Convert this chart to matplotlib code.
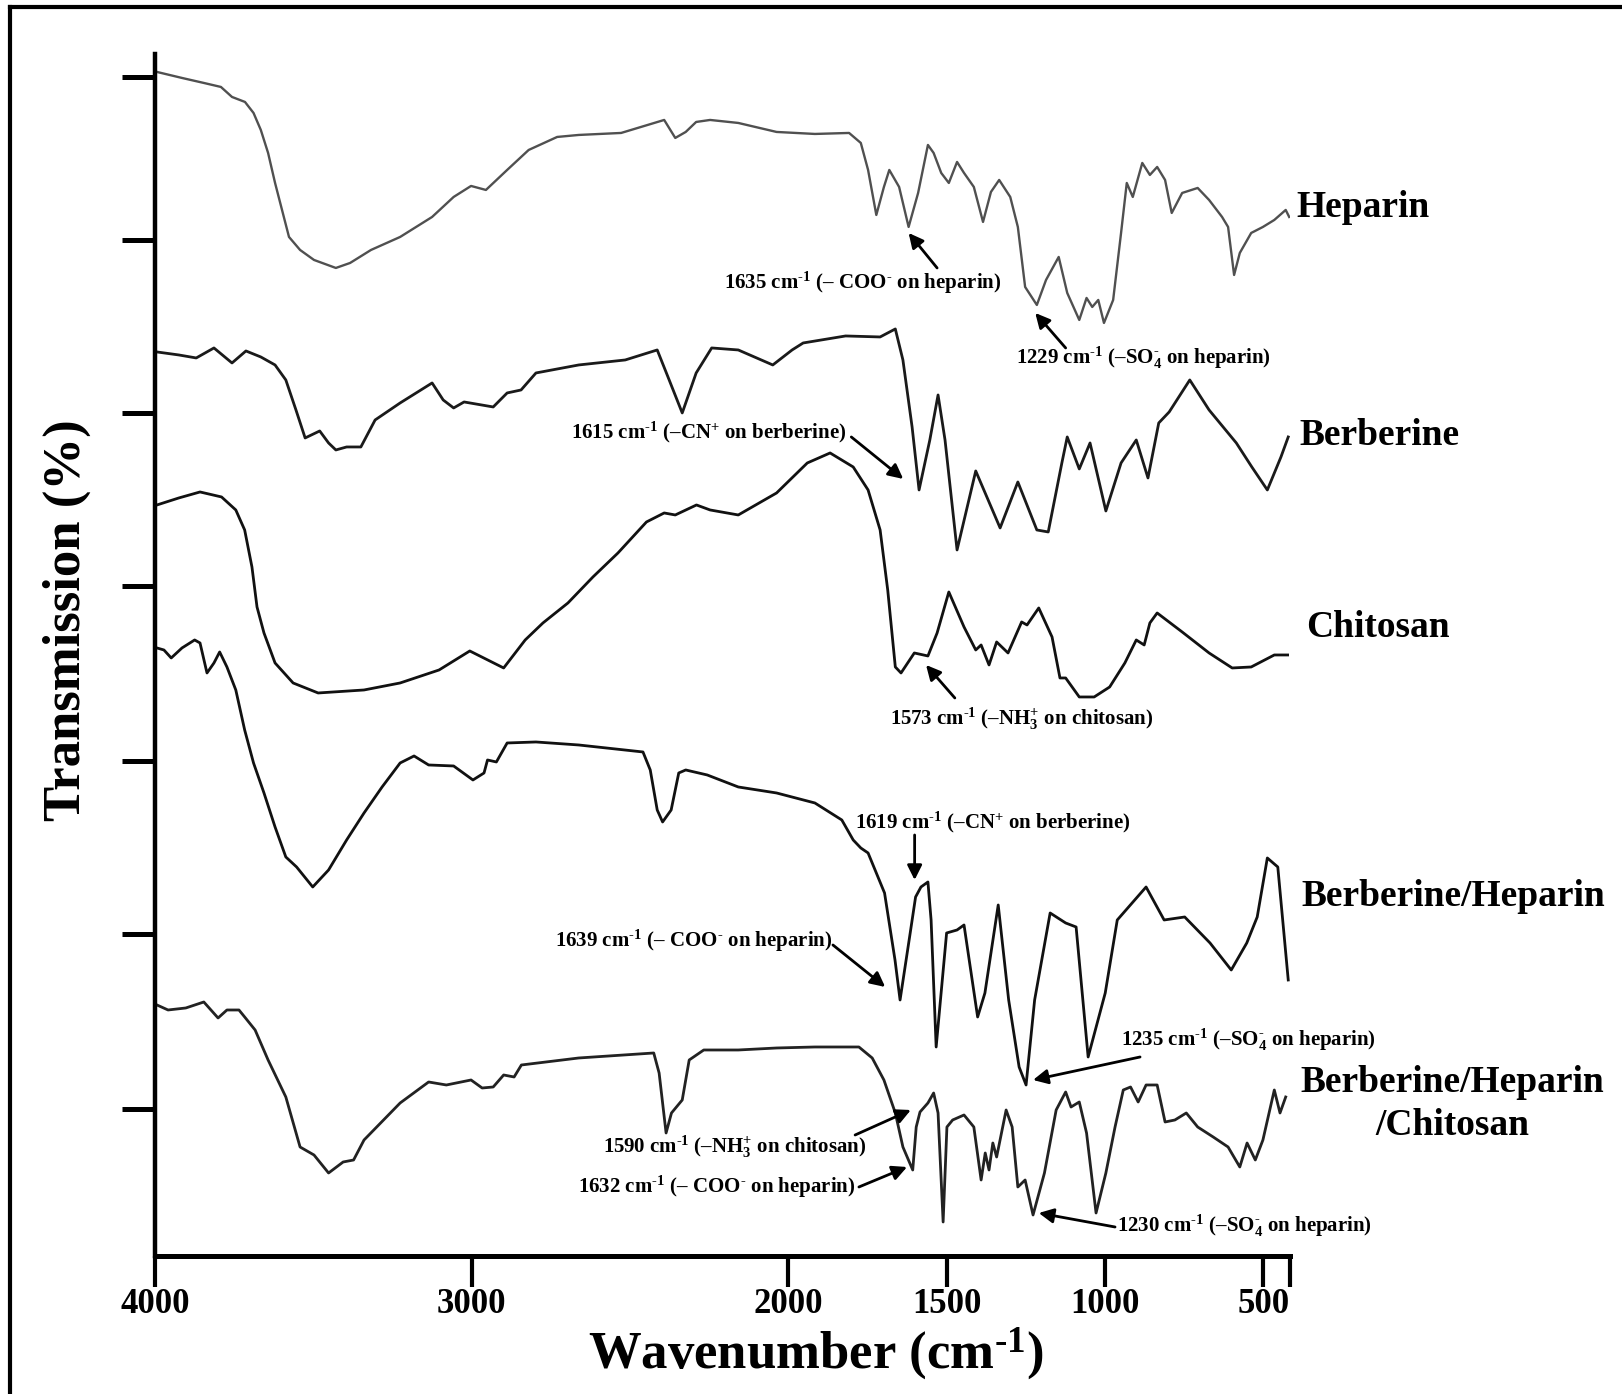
import matplotlib
matplotlib.use("Agg")
import matplotlib.pyplot as plt
from matplotlib.lines import Line2D

plt.rcParams['font.family'] = 'Liberation Serif'
plt.rcParams['font.weight'] = 'bold'
plt.rcParams['mathtext.fontset'] = 'custom'
plt.rcParams['mathtext.rm'] = 'Liberation Serif:bold'
plt.rcParams['mathtext.it'] = 'Liberation Serif:bold'
plt.rcParams['mathtext.bf'] = 'Liberation Serif:bold'
plt.rcParams['mathtext.default'] = 'rm'

# spectra (wavenumber in cm-1, stacked transmission in a.u.)
heparin_wn = [3994, 3915, 3846, 3792, 3757, 3716, 3689, 3666, 3643, 3621, 3599, 3577, 3542, 3498, 3429,
              3384, 3318, 3226, 3125, 3057, 3002, 2955, 2888, 2820, 2730, 2662, 2528, 2392, 2357, 2324,
              2291, 2247, 2158, 2037, 1916, 1808, 1771, 1748, 1722, 1698, 1681, 1650, 1620, 1590, 1559,
              1541, 1517, 1493, 1467, 1445, 1414, 1385, 1360, 1334, 1299, 1275, 1252, 1215, 1186, 1146,
              1119, 1081, 1058, 1040, 1021, 1003, 974, 949, 931, 912, 882, 858, 835, 810, 789,
              756, 707, 671, 630, 611, 592, 574, 538, 501, 465, 429, 418]
heparin_t = [118.4, 117.8, 117.3, 116.9, 115.9, 115.4, 114.3, 112.6, 110.3, 107.3, 104.6, 101.9, 100.6, 99.6, 98.8,
             99.3, 100.6, 101.9, 103.9, 105.9, 107.0, 106.6, 108.6, 110.6, 111.9, 112.1, 112.3, 113.6, 111.8, 112.4,
             113.4, 113.6, 113.3, 112.4, 112.2, 112.3, 111.3, 108.6, 104.1, 106.9, 108.6, 106.9, 102.9, 106.3, 111.1,
             110.3, 108.3, 107.3, 109.4, 108.3, 106.9, 103.4, 106.4, 107.6, 105.9, 102.9, 96.9, 95.1, 97.6, 99.9,
             96.3, 93.6, 95.8, 94.9, 95.6, 93.3, 95.6, 102.3, 107.3, 105.9, 109.3, 108.1, 108.9, 107.6, 104.3,
             106.3, 106.8, 105.6, 103.9, 102.9, 98.1, 100.3, 102.3, 102.9, 103.6, 104.6, 103.9]

berberine_wn = [3994, 3925, 3870, 3814, 3757, 3713, 3666, 3621, 3587, 3555, 3526, 3480, 3452, 3429, 3395,
                3350, 3305, 3226, 3125, 3090, 3057, 3024, 2932, 2888, 2844, 2797, 2662, 2515, 2414, 2380,
                2335, 2291, 2242, 2158, 2049, 1988, 1953, 1819, 1710, 1662, 1638, 1609, 1587, 1553, 1527,
                1505, 1467, 1408, 1331, 1275, 1215, 1179, 1136, 1119, 1081, 1047, 997, 949, 901, 864,
                830, 797, 732, 671, 585, 536, 487, 444, 421]
berberine_t = [90.4, 90.1, 89.8, 90.8, 89.3, 90.5, 89.9, 89.1, 87.6, 84.6, 81.8, 82.5, 81.3, 80.6, 80.9,
               80.9, 83.6, 85.3, 87.3, 85.6, 84.8, 85.4, 84.9, 86.3, 86.6, 88.3, 89.1, 89.6, 90.6, 87.9,
               84.3, 88.3, 90.8, 90.6, 89.1, 90.6, 91.3, 92.0, 91.9, 92.7, 89.6, 82.9, 76.6, 81.6, 86.1,
               81.6, 70.6, 78.5, 72.8, 77.4, 72.6, 72.4, 79.3, 81.9, 78.7, 81.3, 74.5, 79.3, 81.6, 77.8,
               83.3, 84.4, 87.6, 84.6, 81.3, 78.9, 76.6, 79.9, 81.9]

chitosan_wn = [3994, 3925, 3858, 3790, 3745, 3717, 3694, 3678, 3656, 3621, 3564, 3485, 3340, 3226, 3103,
               3006, 2899, 2831, 2775, 2696, 2617, 2538, 2448, 2392, 2357, 2290, 2247, 2158, 2037, 1940,
               1868, 1795, 1748, 1710, 1686, 1662, 1644, 1602, 1559, 1530, 1493, 1445, 1408, 1391, 1366,
               1342, 1306, 1263, 1246, 1209, 1167, 1142, 1124, 1081, 1034, 985, 937, 901, 876, 858,
               835, 756, 671, 598, 538, 465, 423]
chitosan_t = [75.1, 75.8, 76.4, 75.9, 74.6, 72.6, 68.9, 64.9, 62.3, 59.3, 57.3, 56.3, 56.6, 57.3, 58.6,
              60.5, 58.8, 61.6, 63.3, 65.3, 67.9, 70.3, 73.4, 74.3, 74.1, 75.1, 74.6, 74.1, 76.3, 79.3,
              80.3, 78.9, 76.6, 72.6, 66.6, 58.9, 58.3, 60.3, 60.0, 62.3, 66.4, 62.9, 60.6, 61.1, 59.1,
              61.4, 60.3, 63.4, 63.1, 64.8, 61.9, 57.8, 57.8, 55.9, 55.9, 56.9, 59.3, 61.6, 61.1, 63.3,
              64.3, 62.4, 60.3, 58.8, 58.9, 60.1, 60.1]

ber_hep_wn = [3994, 3972, 3949, 3915, 3875, 3858, 3836, 3814, 3796, 3773, 3745, 3717, 3689, 3656, 3621,
              3587, 3553, 3502, 3452, 3395, 3340, 3283, 3226, 3182, 3136, 3057, 2996, 2961, 2950, 2922,
              2888, 2797, 2662, 2459, 2436, 2414, 2397, 2370, 2346, 2324, 2256, 2158, 2037, 1916, 1831,
              1795, 1771, 1748, 1722, 1696, 1663, 1647, 1615, 1598, 1581, 1559, 1549, 1533, 1500, 1467,
              1445, 1402, 1379, 1337, 1304, 1271, 1249, 1222, 1173, 1124, 1091, 1053, 999, 961, 870,
              813, 748, 668, 601, 552, 519, 487, 454, 421]
ber_hep_t = [60.8, 60.6, 59.8, 60.8, 61.6, 61.3, 58.3, 59.3, 60.4, 58.9, 56.6, 52.6, 49.3, 46.3, 42.9,
             39.9, 38.9, 36.9, 38.6, 41.6, 44.3, 46.9, 49.3, 50.0, 49.1, 49.0, 47.6, 48.3, 49.6, 49.4,
             51.3, 51.4, 51.1, 50.4, 48.6, 44.6, 43.4, 44.6, 48.3, 48.6, 48.1, 46.9, 46.3, 45.3, 43.6,
             41.6, 40.8, 40.3, 38.3, 36.3, 29.6, 25.6, 32.3, 35.9, 36.9, 37.4, 33.6, 20.9, 32.3, 32.6,
             33.1, 23.9, 26.3, 35.1, 25.6, 18.9, 17.1, 25.6, 34.3, 33.3, 32.9, 19.9, 26.3, 33.6, 36.9,
             33.6, 33.9, 31.3, 28.6, 31.3, 33.9, 39.8, 38.9, 27.6]

ber_hep_chi_wn = [3994, 3959, 3903, 3846, 3801, 3773, 3735, 3717, 3684, 3643, 3587, 3542, 3498, 3452, 3406,
                  3373, 3340, 3226, 3136, 3080, 3002, 2967, 2932, 2899, 2866, 2843, 2662, 2425, 2408, 2386,
                  2369, 2335, 2313, 2267, 2158, 2037, 1916, 1777, 1735, 1698, 1662, 1638, 1607, 1596, 1584,
                  1559, 1541, 1527, 1511, 1499, 1481, 1445, 1414, 1391, 1378, 1366, 1354, 1342, 1312, 1293,
                  1275, 1252, 1227, 1191, 1154, 1124, 1107, 1081, 1058, 1028, 997, 968, 942, 919, 895,
                  870, 835, 810, 779, 743, 707, 658, 611, 574, 551, 525, 501, 465, 447, 429]
ber_hep_chi_t = [25.1, 24.6, 24.8, 25.4, 23.8, 24.6, 24.6, 23.9, 22.6, 19.6, 15.9, 10.9, 10.1, 8.3, 9.4,
                 9.6, 11.6, 15.3, 17.4, 17.1, 17.6, 16.8, 16.9, 18.1, 17.9, 19.1, 19.8, 20.3, 18.3, 12.3,
                 14.3, 15.6, 19.6, 20.6, 20.6, 20.8, 20.9, 20.9, 19.8, 17.6, 14.3, 10.9, 8.6, 12.9, 14.4,
                 15.3, 16.3, 14.3, 3.4, 12.9, 13.6, 14.1, 12.9, 7.6, 10.3, 8.6, 11.3, 9.9, 14.6, 12.9,
                 6.9, 7.6, 4.1, 8.3, 14.6, 16.4, 14.9, 15.4, 12.3, 4.3, 8.3, 12.9, 16.6, 16.9, 15.4,
                 17.1, 17.1, 13.4, 13.6, 14.3, 12.9, 11.9, 10.9, 8.9, 11.3, 9.6, 11.6, 16.6, 14.3, 15.9]

x_ticks = [4000, 3000, 2000, 1500, 1000, 500, 415]
x_ticklabels = ['4000', '3000', '2000', '1500', '1000', '500', '']
y_ticks = [14.7, 32.2, 49.5, 67.0, 84.3, 101.6, 117.9]

fig = plt.figure(figsize=(16.22, 13.94), dpi=100)
ax = fig.add_axes([0.0956, 0.0990, 0.6998, 0.8623])

ax.plot(heparin_wn, heparin_t, color='#505050', lw=1.7)
ax.plot(berberine_wn, berberine_t, color='#1a1a1a', lw=2.0)
ax.plot(chitosan_wn, chitosan_t, color='#111111', lw=2.0)
ax.plot(ber_hep_wn, ber_hep_t, color='#111111', lw=2.0)
ax.plot(ber_hep_chi_wn, ber_hep_chi_t, color='#222222', lw=2.0)

ax.set_xlim(4000, 415)
ax.set_ylim(0, 120.2)
for side in ['top', 'right']:
    ax.spines[side].set_visible(False)
ax.spines['left'].set_linewidth(3.2)
ax.spines['bottom'].set_linewidth(3.6)

ax.set_xticks(x_ticks)
ax.set_xticklabels(x_ticklabels)
ax.set_yticks(y_ticks)
ax.set_yticklabels([])
ax.tick_params(axis='x', direction='out', length=22, width=3, pad=1, labelsize=25)
ax.tick_params(axis='y', direction='out', length=24, width=3.6)

# sample names at the right of each trace
ax.text(396, 103.9, 'Heparin', fontsize=27, ha='left', va='baseline', clip_on=False)
ax.text(386, 81.1, 'Berberine', fontsize=27, ha='left', va='baseline', clip_on=False)
ax.text(363, 61.9, 'Chitosan', fontsize=27, ha='left', va='baseline', clip_on=False)
ax.text(380, 35.0, 'Berberine/Heparin', fontsize=27, ha='left', va='baseline', clip_on=False)
ax.text(-97, 16.4, 'Berberine/Heparin', fontsize=27, ha='center', va='baseline', clip_on=False)
ax.text(-97, 12.1, '/Chitosan', fontsize=27, ha='center', va='baseline', clip_on=False)

# peak assignments: text, text anchor (left, baseline), arrow tail, arrow tip
notes = [
    (r'1635 cm$^{\text{-}1}$ (– COO$^{\text{-}}$ on heparin)', (2203, 96.7), (1530, 98.8), (1620, 102.3)),
    (r'1229 cm$^{\text{-}1}$ (–SO$_{4}^{\text{-}}$ on heparin)', (1281, 89.2), (1124, 90.8), (1220, 94.3)),
    (r'1615 cm$^{\text{-}1}$ (–CN$^{+}$ on berberine)', (2685, 81.8), (1801, 81.9), (1637, 77.7)),
    (r'1573 cm$^{\text{-}1}$ (–NH$_{3}^{+}$ on chitosan)', (1680, 53.1), (1474, 55.8), (1565, 59.1)),
    (r'1619 cm$^{\text{-}1}$ (–CN$^{+}$ on berberine)', (1789, 42.8), (1601, 42.1), (1601, 37.6)),
    (r'1639 cm$^{\text{-}1}$ (– COO$^{\text{-}}$ on heparin)', (2738, 30.9), (1859, 31.1), (1694, 26.9)),
    (r'1235 cm$^{\text{-}1}$ (–SO$_{4}^{\text{-}}$ on heparin)', (949, 21.0), (889, 19.9), (1227, 17.6)),
    (r'1590 cm$^{\text{-}1}$ (–NH$_{3}^{+}$ on chitosan)', (2585, 10.3), (1789, 12.1), (1613, 14.6)),
    (r'1632 cm$^{\text{-}1}$ (– COO$^{\text{-}}$ on heparin)', (2665, 6.3), (1777, 6.9), (1625, 8.9)),
    (r'1230 cm$^{\text{-}1}$ (–SO$_{4}^{\text{-}}$ on heparin)', (961, 2.4), (968, 2.9), (1209, 4.3)),
]
for label, (tx, ty), tail, tip in notes:
    ax.text(tx, ty, label, fontsize=15, ha='left', va='baseline', clip_on=False)
    ax.annotate('', xy=tip, xytext=tail,
                arrowprops=dict(arrowstyle='-|>', color='black', lw=2.0,
                                mutation_scale=22, shrinkA=0, shrinkB=0))

fig.text(0.503, 0.0187, r'Wavenumber (cm$^{\text{-}1}$)', fontsize=38, ha='center', va='baseline')
fig.text(0.0413, 0.5552, 'Transmission (%)', fontsize=38, rotation=90, ha='center', va='center')

# frame round the picture
fig.add_artist(Line2D([0.0062, 0.0062], [0.0, 0.995], color='black', lw=3, transform=fig.transFigure))
fig.add_artist(Line2D([0.0062, 1.0], [0.995, 0.995], color='black', lw=3, transform=fig.transFigure))

fig.savefig('out.png', dpi=100)
